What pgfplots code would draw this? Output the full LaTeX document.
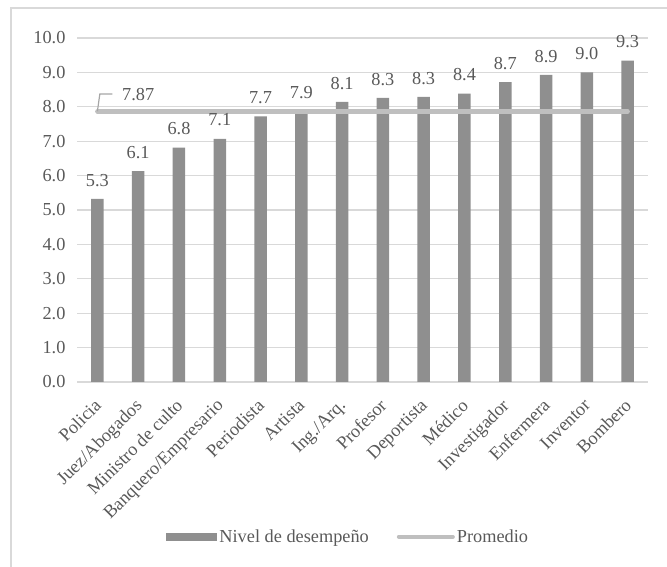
\documentclass[border=0pt]{standalone}
\usepackage{fontspec}
\setmainfont{Liberation Serif}
\usepackage{pgfplots}
\pgfplotsset{compat=1.18}
\definecolor{bargray}{HTML}{8F8F8F}
\definecolor{avggray}{HTML}{BFBFBF}
\definecolor{gridgray}{HTML}{D9D9D9}
\definecolor{txtgray}{HTML}{595959}
\begin{document}
\begin{tikzpicture}[x=1pt,y=1pt]
\useasboundingbox (0,0) rectangle (667,567);
\draw[gridgray, line width=1.3pt] (11,0) -- (11,559) -- (667,559);
\begin{axis}[
  at={(77pt,185pt)}, anchor=south west, scale only axis,
  width=571pt, height=344pt,
  xmin=-0.5, xmax=13.5, ymin=0, ymax=10,
  axis line style={draw=none},
  ymajorgrids, grid style={gridgray, line width=1.2pt},
  major tick length=0pt,
  ytick={0,1,...,10},
  yticklabel style={/pgf/number format/fixed, /pgf/number format/fixed zerofill,
    /pgf/number format/precision=1, xshift=-8pt},
  /pgf/number format/assume math mode=true,
  xtick={0,1,...,13},
  xticklabels={Policia, Juez/Abogados, Ministro de culto, Banquero/Empresario, Periodista, Artista, Ing./Arq., Profesor, Deportista, Médico, Investigador, Enfermera, Inventor, Bombero},
  xticklabel style={rotate=45, anchor=north east, inner sep=1pt, xshift=-13pt, yshift=-7pt},
  tick label style={font=\fontsize{18.3}{20}\selectfont, text=txtgray},
  legend style={at={(0.475,-0.45)}, anchor=center, draw=none, fill=none,
    legend columns=2, font=\fontsize{18.3}{20}\selectfont, text=txtgray,
    nodes={inner sep=2pt},
    /tikz/every even column/.append style={column sep=26pt}},
]
\addplot[ybar, bar width=12.5pt, fill=bargray, draw=none,
  nodes near coords,
  nodes near coords style={font=\fontsize{18.3}{20}\selectfont, text=txtgray,
    /pgf/number format/fixed, /pgf/number format/fixed zerofill,
    /pgf/number format/precision=1, /pgf/number format/assume math mode=true, yshift=9pt},
  legend image code/.code={\fill[bargray] (0pt,-4pt) rectangle (51pt,4pt);}]
  coordinates {(0,5.32) (1,6.13) (2,6.81) (3,7.07) (4,7.72) (5,7.86) (6,8.14)
    (7,8.26) (8,8.29) (9,8.38) (10,8.72) (11,8.93) (12,9.0) (13,9.34)};
\addlegendentry{Nivel de desempeño}
\addplot[avggray, line width=4.5pt, line cap=round,
  legend image code/.code={\draw[avggray, line width=4pt, line cap=round] (2pt,0pt) -- (56pt,0pt);}]
  coordinates {(0,7.87) (13,7.87)};
\addlegendentry{Promedio}
\draw[gray!70, line width=1.2pt] (axis cs:0,7.87) -- (axis cs:0.06,8.37) -- (axis cs:0.37,8.37);
\node[text=txtgray, font=\fontsize{18.3}{20}\selectfont] at (axis cs:1.0,8.35) {7.87};
\end{axis}
\end{tikzpicture}
\end{document}
